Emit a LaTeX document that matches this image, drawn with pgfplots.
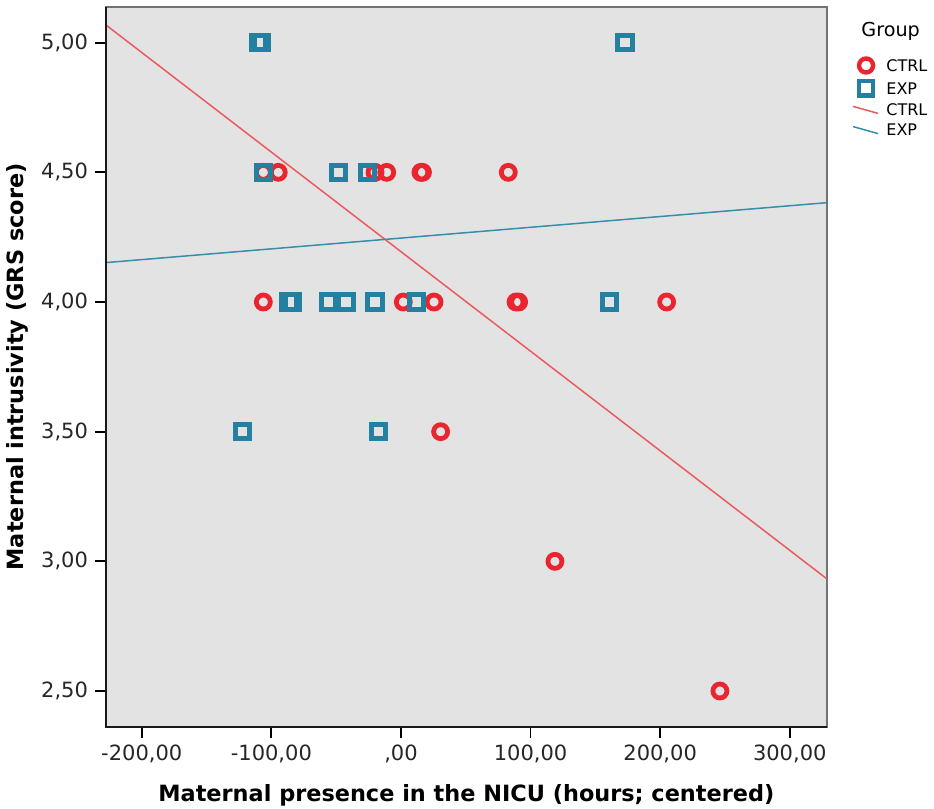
\documentclass[border=0pt]{standalone}
\usepackage{fontspec}
\setmainfont{DejaVu Sans}
\usepackage{pgfplots}
\pgfplotsset{compat=1.18}
\definecolor{ctrlred}{RGB}{233,38,48}
\definecolor{expteal}{RGB}{35,128,160}
\definecolor{ctrlline}{RGB}{236,90,95}
\definecolor{expline}{RGB}{52,142,172}
\definecolor{bgc}{RGB}{227,227,227}
\pgfplotsset{
  sloped legend/.style={legend image code/.code={\draw[##1] (0pt,1.75pt) -- (12.5pt,-1.75pt);}},
  ctrlmark/.style={only marks, mark=o, mark size=3.5pt, mark options={draw=ctrlred, line width=2.4pt}},
  expmark/.style={only marks, mark=square, mark size=3.6pt, mark options={draw=expteal, line width=2.5pt}},
}
\begin{document}
\begin{tikzpicture}
\begin{axis}[
  scale only axis,
  clip mode=individual,
  width=360.35pt, height=359.85pt,
  xmin=-227.6, xmax=328.5,
  ymin=2.3624, ymax=5.1376,
  axis background/.style={fill=bgc},
  axis line style={draw=black!55, line width=1pt},
  xtick={-200,-100,0,100,200,300},
  xticklabels={{-200,00},{-100,00},{,00},{100,00},{200,00},{300,00}},
  ytick={2.5,3,3.5,4,4.5,5},
  yticklabels={{2,50},{3,00},{3,50},{4,00},{4,50},{5,00}},
  xtick pos=bottom, ytick pos=left,
  tick align=outside,
  major tick length=5.5pt,
  tick style={black, line width=0.9pt},
  tick label style={font=\fontsize{10.5}{12}\selectfont, text=black!85},
  xlabel={Maternal presence in the NICU (hours; centered)},
  ylabel={Maternal intrusivity (GRS score)},
  label style={font=\bfseries\fontsize{11.2}{13}\selectfont},
  xlabel style={at={(axis description cs:0.5,-0.1046)}, anchor=base},
  ylabel style={at={(axis description cs:-0.1138,0.5)}, anchor=base},
  legend cell align=left,
  legend image code/.code={\draw[mark repeat=2,mark phase=2,#1] plot coordinates {(0pt,0pt) (6.5pt,0pt) (13pt,0pt)};},
  legend style={draw=none, fill=none, at={(axis description cs:1.035,0.929)}, anchor=north west,
    inner sep=0pt, row sep=4.3pt, column sep=3.8pt,
    font=\fontsize{8}{9}\selectfont,
    nodes={inner sep=0pt, text height=5.8pt, text depth=0pt}},
]
\addlegendimage{ctrlmark, mark options={draw=ctrlred, line width=2.2pt}}
\addlegendentry{CTRL}
\addlegendimage{expmark, mark options={draw=expteal, line width=2.2pt}}
\addlegendentry{EXP}
\addlegendimage{no markers, draw=ctrlline, line width=0.75pt, sloped legend}
\addlegendentry{CTRL}
\addlegendimage{no markers, draw=expline, line width=0.75pt, sloped legend}
\addlegendentry{EXP}

% regression lines
\addplot[forget plot, no markers, draw=ctrlline, line width=0.75pt] coordinates {(-227.6,5.068) (328.5,2.933)};
\addplot[forget plot, no markers, draw=expline, line width=0.75pt] coordinates {(-227.6,4.152) (328.5,4.383)};

% CTRL
\addplot[forget plot, ctrlmark] coordinates {
(-106.2,4.5) (-94.7,4.5) (-20,4.5) (-11,4.5) (15.4,4.5) (16.6,4.5) (82.8,4.5)
(-106.2,4.0) (1.8,4.0) (25.5,4.0) (88.8,4.0) (90.8,4.0) (205,4.0)
(30.6,3.5) (118.8,3.0) (246.1,2.5)
};
% EXP
\addplot[forget plot, expmark] coordinates {
(-110.0,5) (-107.6,5) (172.8,5)
(-106.2,4.5) (-48.4,4.5) (-25.7,4.5)
(-86.3,4) (-83.9,4) (-56.1,4) (-42.4,4) (-20.1,4) (12.1,4) (160.8,4)
(-122.2,3.5) (-17.5,3.5)
};
\draw[black!90, line width=1pt] (rel axis cs:0,1) -- (rel axis cs:0,0) -- (rel axis cs:1,0);
\node[anchor=west, font=\fontsize{9.6}{11}\selectfont, inner sep=0pt] at (axis description cs:1.0476,0.9657) {Group};
\end{axis}
\pgfresetboundingbox
\path[use as bounding box] (-53pt,-41.15pt) rectangle (414pt,363.35pt);
\end{tikzpicture}
\end{document}
